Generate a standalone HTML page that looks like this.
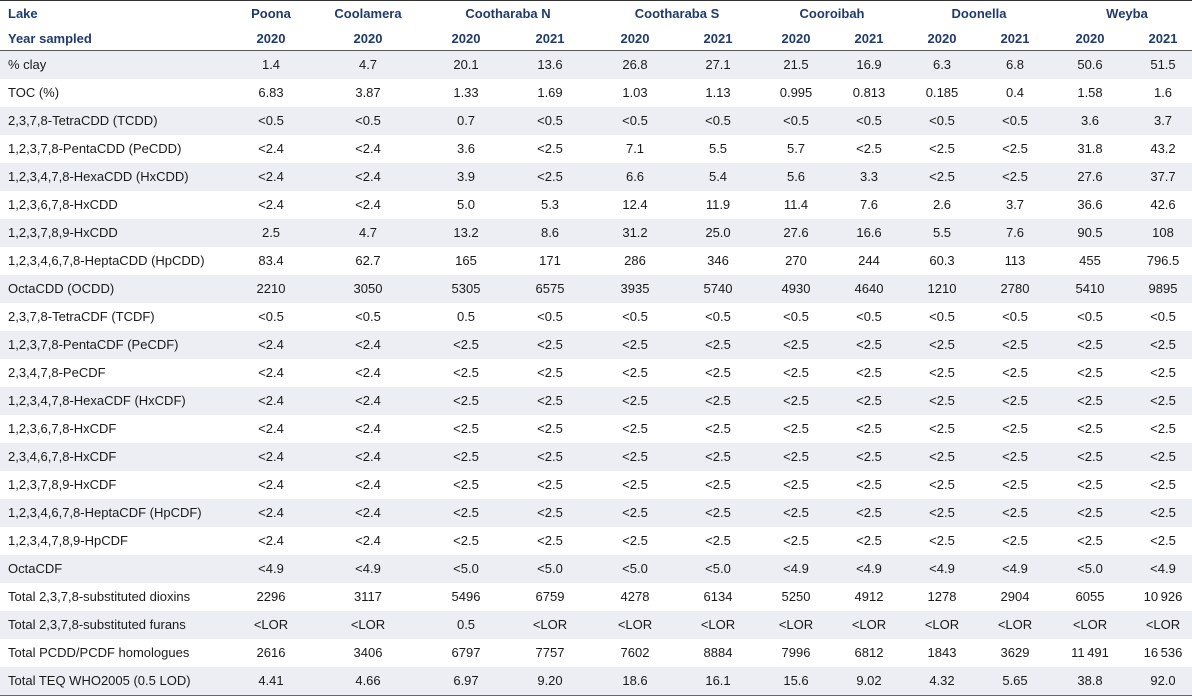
<!DOCTYPE html>
<html><head><meta charset="utf-8"><style>
body{margin:0;width:1192px;height:696px;background:#fff;font-family:"Liberation Sans",sans-serif;overflow:hidden;position:relative}
.c{position:absolute;font-size:13px;color:#1a1a1a;white-space:nowrap;transform:translateX(-50%);line-height:28px}
.l{position:absolute;left:8px;font-size:13px;color:#1a1a1a;line-height:28px}
.h{position:absolute;font-size:13px;font-weight:bold;color:#1f3a6e;white-space:nowrap;line-height:25px}
.row{position:absolute;left:0;width:1192px;height:28px}
</style></head><body>
<div style="position:absolute;left:0;top:0;width:1192px;height:1px;background:#333"></div>
<div style="position:absolute;left:0;top:50px;width:1192px;height:1px;background:#555"></div>
<div style="position:absolute;left:0;top:693px;width:1192px;height:3px;background:#666"></div>
<div id="t"></div>
<script>
const cx=[271,368,466,550,635,718,796,869,942,1015,1090,1163];
const lakes=[["Poona",271],["Coolamera",368],["Cootharaba N",508],["Cootharaba S",677],["Cooroibah",832],["Doonella",979],["Weyba",1127]];
const years=["2020","2020","2020","2021","2020","2021","2020","2021","2020","2021","2020","2021"];
const rows=[
["% clay","1.4","4.7","20.1","13.6","26.8","27.1","21.5","16.9","6.3","6.8","50.6","51.5"],
["TOC (%)","6.83","3.87","1.33","1.69","1.03","1.13","0.995","0.813","0.185","0.4","1.58","1.6"],
["2,3,7,8-TetraCDD (TCDD)","<0.5","<0.5","0.7","<0.5","<0.5","<0.5","<0.5","<0.5","<0.5","<0.5","3.6","3.7"],
["1,2,3,7,8-PentaCDD (PeCDD)","<2.4","<2.4","3.6","<2.5","7.1","5.5","5.7","<2.5","<2.5","<2.5","31.8","43.2"],
["1,2,3,4,7,8-HexaCDD (HxCDD)","<2.4","<2.4","3.9","<2.5","6.6","5.4","5.6","3.3","<2.5","<2.5","27.6","37.7"],
["1,2,3,6,7,8-HxCDD","<2.4","<2.4","5.0","5.3","12.4","11.9","11.4","7.6","2.6","3.7","36.6","42.6"],
["1,2,3,7,8,9-HxCDD","2.5","4.7","13.2","8.6","31.2","25.0","27.6","16.6","5.5","7.6","90.5","108"],
["1,2,3,4,6,7,8-HeptaCDD (HpCDD)","83.4","62.7","165","171","286","346","270","244","60.3","113","455","796.5"],
["OctaCDD (OCDD)","2210","3050","5305","6575","3935","5740","4930","4640","1210","2780","5410","9895"],
["2,3,7,8-TetraCDF (TCDF)","<0.5","<0.5","0.5","<0.5","<0.5","<0.5","<0.5","<0.5","<0.5","<0.5","<0.5","<0.5"],
["1,2,3,7,8-PentaCDF (PeCDF)","<2.4","<2.4","<2.5","<2.5","<2.5","<2.5","<2.5","<2.5","<2.5","<2.5","<2.5","<2.5"],
["2,3,4,7,8-PeCDF","<2.4","<2.4","<2.5","<2.5","<2.5","<2.5","<2.5","<2.5","<2.5","<2.5","<2.5","<2.5"],
["1,2,3,4,7,8-HexaCDF (HxCDF)","<2.4","<2.4","<2.5","<2.5","<2.5","<2.5","<2.5","<2.5","<2.5","<2.5","<2.5","<2.5"],
["1,2,3,6,7,8-HxCDF","<2.4","<2.4","<2.5","<2.5","<2.5","<2.5","<2.5","<2.5","<2.5","<2.5","<2.5","<2.5"],
["2,3,4,6,7,8-HxCDF","<2.4","<2.4","<2.5","<2.5","<2.5","<2.5","<2.5","<2.5","<2.5","<2.5","<2.5","<2.5"],
["1,2,3,7,8,9-HxCDF","<2.4","<2.4","<2.5","<2.5","<2.5","<2.5","<2.5","<2.5","<2.5","<2.5","<2.5","<2.5"],
["1,2,3,4,6,7,8-HeptaCDF (HpCDF)","<2.4","<2.4","<2.5","<2.5","<2.5","<2.5","<2.5","<2.5","<2.5","<2.5","<2.5","<2.5"],
["1,2,3,4,7,8,9-HpCDF","<2.4","<2.4","<2.5","<2.5","<2.5","<2.5","<2.5","<2.5","<2.5","<2.5","<2.5","<2.5"],
["OctaCDF","<4.9","<4.9","<5.0","<5.0","<5.0","<5.0","<4.9","<4.9","<4.9","<4.9","<5.0","<4.9"],
["Total 2,3,7,8-substituted dioxins","2296","3117","5496","6759","4278","6134","5250","4912","1278","2904","6055","10\u2009926"],
["Total 2,3,7,8-substituted furans","<LOR","<LOR","0.5","<LOR","<LOR","<LOR","<LOR","<LOR","<LOR","<LOR","<LOR","<LOR"],
["Total PCDD/PCDF homologues","2616","3406","6797","7757","7602","8884","7996","6812","1843","3629","11\u2009491","16\u2009536"],
["Total TEQ WHO2005 (0.5 LOD)","4.41","4.66","6.97","9.20","18.6","16.1","15.6","9.02","4.32","5.65","38.8","92.0"]];
const t=document.getElementById('t');
function mk(cls,txt,x,y){const d=document.createElement('div');d.className=cls;d.textContent=txt;d.style.left=x+'px';d.style.top=y+'px';t.appendChild(d);return d;}
let e=mk('h','Lake',8,1);


e=mk('h','Year sampled',8,26);


lakes.forEach(([n,x])=>{const d=mk('h',n,x,1);d.style.transform='translateX(-50%)';

});
years.forEach((y,i)=>{const d=mk('h',y,cx[i],26);d.style.transform='translateX(-50%)';

});
rows.forEach((r,ri)=>{const top=51+ri*28;
 if(ri%2===0){const s=document.createElement('div');s.className='row';s.style.top=top+'px';s.style.background='#eceef3';t.appendChild(s);
 
 }
 const l=mk('l',r[0],8,top);
 
 
 for(let i=1;i<r.length;i++){const c=mk('c',r[i],cx[i-1],top);
 
 }
});
</script>
</body></html>
